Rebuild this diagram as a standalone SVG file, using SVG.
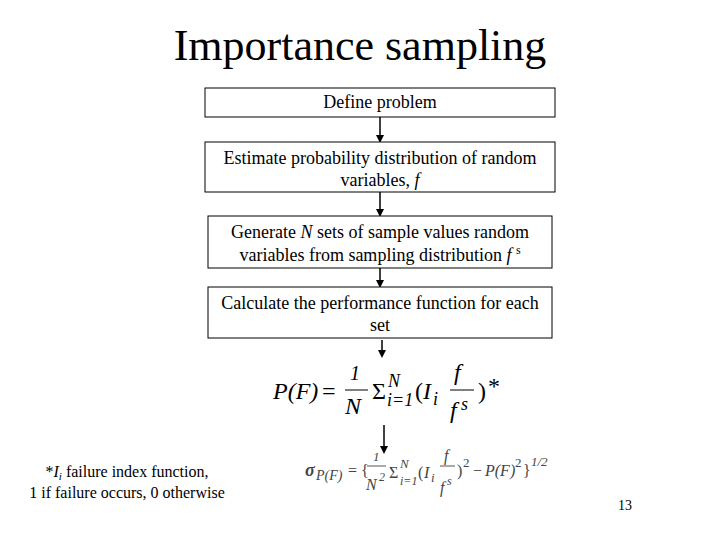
<svg xmlns="http://www.w3.org/2000/svg" width="720" height="540" viewBox="0 0 720 540">
<style>
text{font-family:"Liberation Serif","Times New Roman","DejaVu Serif",serif}
.t{fill:#000}
.b{fill:#fff;stroke:#000;stroke-width:1}
.c{stroke:#000;stroke-width:1.5;fill:none}
.m{font-style:italic}
.g{fill:#444}
</style>
<defs><marker id="a" markerWidth="8" markerHeight="8" refX="6" refY="4" orient="auto" markerUnits="userSpaceOnUse"><path d="M0,0L8,4L0,8z" fill="#000"/></marker></defs>
<rect width="720" height="540" fill="#fff"/>
<text class="t" x="360" y="60" font-size="44" text-anchor="middle">Importance sampling</text>
<g id="connectors">
<line class="c" x1="380" y1="117" x2="380" y2="141" marker-end="url(#a)"/>
<line class="c" x1="380" y1="192" x2="380" y2="215" marker-end="url(#a)"/>
<line class="c" x1="380" y1="268" x2="380" y2="286" marker-end="url(#a)"/>
<line class="c" x1="382" y1="340" x2="382" y2="356" marker-end="url(#a)"/>
<line class="c" x1="384" y1="425" x2="384" y2="452" marker-end="url(#a)"/>
</g>
<g id="n1"><rect class="b" x="205" y="88" width="350" height="29"/><text class="t" x="380" y="108" font-size="18" text-anchor="middle">Define problem</text></g>
<g id="n2"><rect class="b" x="205" y="142" width="350" height="50"/><text class="t" x="380" y="164" font-size="18" text-anchor="middle">Estimate probability distribution of random</text><text class="t" x="380" y="186" font-size="18" text-anchor="middle">variables, <tspan font-style="italic">f</tspan></text></g>
<g id="n3"><rect class="b" x="208" y="216" width="344" height="52"/><text class="t" x="380" y="238" font-size="18" text-anchor="middle">Generate <tspan font-style="italic">N</tspan> sets of sample values random</text><text class="t" x="380" y="261" font-size="18" text-anchor="middle">variables from sampling distribution <tspan font-style="italic">f</tspan> <tspan font-size="12" dy="-7">s</tspan></text></g>
<g id="n4"><rect class="b" x="208" y="287" width="344" height="51"/><text class="t" x="380" y="309" font-size="18" text-anchor="middle">Calculate the performance function for each</text><text class="t" x="380" y="331" font-size="18" text-anchor="middle">set</text></g>
<g id="f1" font-size="24">
<text class="m" x="273" y="399">P(F)</text>
<text class="t" x="322" y="399">=</text>
<text class="m" x="350" y="380" font-size="20">1</text>
<line x1="345" y1="390" x2="368" y2="390" stroke="#000"/>
<text class="m" x="345" y="414">N</text>
<text class="t" x="372" y="399">Σ</text>
<text class="m" x="388" y="387" font-size="18">N</text>
<text class="m" x="387" y="406" font-size="18">i=1</text>
<text class="t" x="415" y="399">(</text>
<text class="m" x="423" y="399">I</text>
<text class="m" x="433" y="405" font-size="18">i</text>
<text class="m" x="454" y="380">f</text>
<line x1="450" y1="390" x2="474" y2="390" stroke="#000"/>
<text class="m" x="450" y="418">f</text>
<text class="m" x="461" y="410" font-size="18">s</text>
<text class="t" x="478" y="399">)</text>
<text class="t" x="488" y="394">*</text>
</g>
<g id="f2" font-size="16" class="g">
<text class="m" x="305" y="476" font-size="18" font-weight="bold">σ</text>
<text class="m" x="316" y="480" font-size="14">P(F)</text>
<text x="348" y="476">= {</text>
<text class="m" x="373" y="461" font-size="13">1</text>
<line x1="367" y1="466" x2="386" y2="466" stroke="#555"/>
<text class="m" x="366" y="490">N</text><text class="m" x="379" y="481" font-size="12">2</text>
<text x="389" y="478">Σ</text>
<text class="m" x="400" y="468" font-size="13">N</text>
<text class="m" x="400" y="485" font-size="12">i=1</text>
<text x="418" y="478">(</text>
<text class="m" x="424" y="478">I</text><text class="m" x="431" y="482" font-size="13">i</text>
<text class="m" x="444" y="461">f</text>
<line x1="440" y1="466" x2="455" y2="466" stroke="#555"/>
<text class="m" x="440" y="493">f</text><text class="m" x="447" y="485" font-size="12">s</text>
<text x="457" y="476">)</text>
<text x="463" y="467" font-size="13">2</text>
<text x="473" y="476">−</text>
<text class="m" x="485" y="476">P(F)</text>
<text x="515" y="467" font-size="13">2</text>
<text x="523" y="476">}</text>
<text class="m" x="531" y="466" font-size="13">1/2</text>
</g>
<g id="note"><text class="t" x="127" y="477" font-size="16" text-anchor="middle">*<tspan font-style="italic">I</tspan><tspan font-style="italic" font-size="11" dy="3">i</tspan><tspan dy="-3"> failure index function,</tspan></text><text class="t" x="127" y="498" font-size="16" text-anchor="middle">1 if failure occurs, 0 otherwise</text></g>
<text class="t" x="625" y="510" font-size="14" text-anchor="middle">13</text>
</svg>
